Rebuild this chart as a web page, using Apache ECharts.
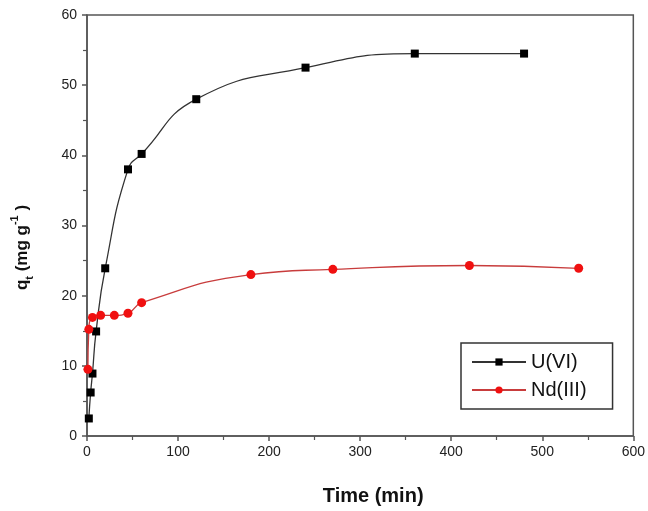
<!DOCTYPE html>
<html>
<head>
<meta charset="utf-8">
<script src="https://cdn.jsdelivr.net/npm/echarts@6/dist/echarts.min.js"></script>
<style>
  html, body { margin: 0; padding: 0; background: #fff; }
  #chart { width: 648px; height: 511px; }
</style>
</head>
<body>
<div id="chart"></div>
<script>
  // 时间 (min) 和吸附量 q_t (mg/g)
  const uTime = [2, 4, 6, 10, 20, 45, 60, 120, 240, 360, 480];
  const uQt = [2.5, 6.2, 8.9, 14.9, 23.9, 38.0, 40.2, 48.0, 52.5, 54.5, 54.5];
  const ndTime = [1, 2, 6, 15, 30, 45, 60, 180, 270, 420, 540];
  const ndQt = [9.5, 15.2, 16.9, 17.2, 17.2, 17.5, 19.0, 23.0, 23.75, 24.3, 23.9];
  const xTicks = [0, 100, 200, 300, 400, 500, 600];
  const yTicks = [0, 10, 20, 30, 40, 50, 60];
  const seriesNames = ['U(VI)', 'Nd(III)'];

  const pair = (xs, ys) => xs.map((x, i) => [x, ys[i]]);

  const chart = echarts.init(document.getElementById('chart'));
  const axisColor = '#555';
  const font = 'Arial, "Liberation Sans", sans-serif';

  const option = {
    animation: false,
    backgroundColor: '#fff',
    grid: {
      left: 87, right: 14, top: 15, bottom: 75,
      show: true, borderColor: axisColor, borderWidth: 1.5
    },
    legend: {
      orient: 'vertical',
      left: 461, top: 343,
      padding: [9, 26, 9, 10],
      itemGap: 8,
      itemWidth: 54,
      itemHeight: 9,
      borderColor: '#333',
      borderWidth: 1.5,
      backgroundColor: '#fff',
      textStyle: { fontFamily: font, fontSize: 20, color: '#111' },
      data: seriesNames
    },
    xAxis: {
      type: 'value',
      min: xTicks[0], max: xTicks[xTicks.length - 1], interval: 100,
      name: 'Time (min)',
      nameLocation: 'middle',
      nameGap: 50,
      nameTextStyle: { fontFamily: font, fontSize: 20, fontWeight: 'bold', color: '#111', padding: [0, 0, 0, 26] },
      axisLine: { lineStyle: { color: axisColor, width: 1.5 } },
      axisTick: { inside: false, length: 5, lineStyle: { color: axisColor, width: 1.5 } },
      minorTick: { show: true, splitNumber: 2, length: 4, lineStyle: { color: axisColor, width: 1.2 } },
      axisLabel: { fontFamily: font, fontSize: 14, color: '#222', margin: 9 },
      splitLine: { show: false }
    },
    yAxis: {
      type: 'value',
      min: yTicks[0], max: yTicks[yTicks.length - 1], interval: 10,
      name: '{b|q}{sub|t}{b| (mg g}{sup|-1}{b| )}',
      nameLocation: 'middle',
      nameGap: 52,
      nameRotate: 90,
      nameTextStyle: {
        padding: [0, 44, 0, 0],
        rich: {
          b: { fontFamily: font, fontSize: 17, fontWeight: 'bold', color: '#111', lineHeight: 26, verticalAlign: 'middle' },
          sub: { fontFamily: font, fontSize: 11, fontWeight: 'bold', color: '#111', lineHeight: 26, verticalAlign: 'bottom', padding: [10, 0, 0, 0] },
          sup: { fontFamily: font, fontSize: 11, fontWeight: 'bold', color: '#111', lineHeight: 26, verticalAlign: 'top', padding: [0, 0, 12, 0] }
        }
      },
      axisLine: { lineStyle: { color: axisColor, width: 1.5 } },
      axisTick: { inside: false, length: 5, lineStyle: { color: axisColor, width: 1.5 } },
      minorTick: { show: true, splitNumber: 2, length: 4, lineStyle: { color: axisColor, width: 1.2 } },
      axisLabel: { fontFamily: font, fontSize: 14, color: '#222', margin: 10 },
      splitLine: { show: false }
    },
    series: [
      {
        name: seriesNames[0],
        type: 'line',
        data: pair(uTime, uQt),
        smooth: 0.5,
        symbol: 'rect',
        symbolSize: 8,
        itemStyle: { color: '#000' },
        lineStyle: { color: '#333', width: 1.3 }
      },
      {
        name: seriesNames[1],
        type: 'line',
        data: pair(ndTime, ndQt),
        smooth: 0.5,
        symbol: 'circle',
        symbolSize: 9,
        itemStyle: { color: '#f01010' },
        lineStyle: { color: '#c83c3c', width: 1.3 }
      }
    ]
  };
  chart.setOption(option);
</script>
</body>
</html>
